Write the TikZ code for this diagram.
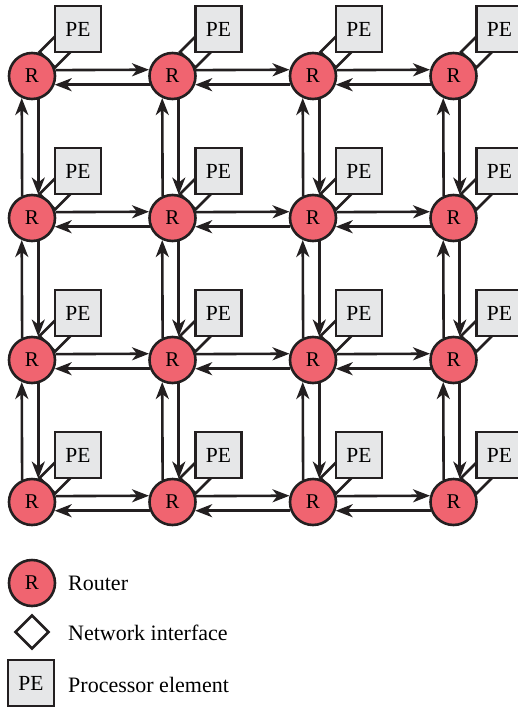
\documentclass[tikz,border=0pt]{standalone}
\usepackage{fontspec}
\setmainfont{Liberation Serif}
\usetikzlibrary{arrows.meta,calc,shapes.geometric}
\definecolor{routerred}{RGB}{240,100,112}
\definecolor{pegray}{RGB}{230,231,232}
\definecolor{inkline}{RGB}{35,31,32}
\tikzset{
    router/.style={circle, draw=inkline, fill=routerred, line width=2.6pt,
        minimum size=46pt, inner sep=0pt, font=\fontsize{21}{21}\selectfont},
    pe/.style={rectangle, draw=inkline, fill=pegray, line width=2.6pt,
        minimum size=46pt, inner sep=0pt, outer sep=0pt,
        font=\fontsize{21.5}{21.5}\selectfont},
    nic/.style={diamond, aspect=1, draw=inkline, fill=white, line width=2.6pt,
        minimum size=32pt, inner sep=0pt},
    link/.style={draw=inkline, line width=2.6pt,
        -{Stealth[length=17pt,width=13pt,inset=5pt]}},
    legend/.style={font=\fontsize{22}{22}\selectfont, anchor=base west,
        inner sep=0pt}
}
\begin{document}
\begin{tikzpicture}[x=1pt,y=-1pt]
    \clip (0,0) rectangle (518,707);

    % router with its network interface and processor element
    \foreach \i in {1,...,4} {
        \foreach \j in {1,...,4} {
            \coordinate (c-\i-\j) at ({32+140.5*(\j-1)},{76+142*(\i-1)});
            \node[nic] (n-\i-\j) at ($(c-\i-\j)+(23,-24)$) {};
            \node[pe, anchor=south west] (p-\i-\j) at (n-\i-\j.center) {PE};
            \node[router] (m-\i-\j) at (c-\i-\j) {R};
        }
    }

    % links between neighbours
    \foreach \i in {1,...,4} {
        \foreach \j [evaluate=\j as \k using int(\j+1)] in {1,2,3} {
            \draw[link] (m-\i-\j.14.3) -- (m-\i-\k.165.7);
            \draw[link] (m-\i-\k.201.8) -- (m-\i-\j.-21.8);
            \draw[link] (m-\k-\i.114.4) -- (m-\j-\i.245.6);
            \draw[link] (m-\j-\i.-75.7) -- (m-\k-\i.75.7);
        }
    }

    % key
    \node[router] (key-r) at (32,583) {R};
    \node[nic, minimum size=34pt] (key-n) at (32,632) {};
    \node[pe] (key-p) at (31,683) {PE};
    \node[legend] (key-r-text) at (68,590) {Router};
    \node[legend] (key-n-text) at (68,640) {Network interface};
    \node[legend] (key-p-text) at (68,692) {Processor element};
\end{tikzpicture}
\end{document}
